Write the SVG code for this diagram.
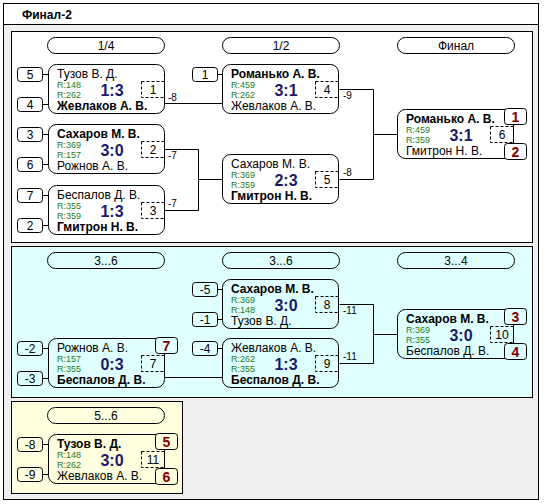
<svg xmlns="http://www.w3.org/2000/svg" width="548" height="504" viewBox="0 0 548 504">
<style>
text{font-family:"Liberation Sans",Arial,sans-serif}
.nm{font-size:12px;fill:#000}
.b{font-weight:bold}
.c{text-anchor:middle}
.r{font-size:9px;fill:#1e7b1e}
.sc{font-size:16px;font-weight:bold;fill:#1a1a6a;text-anchor:middle}
.bx{fill:none;stroke:#000;stroke-width:1}
.dash{stroke-dasharray:3,2}
.ln{stroke:#000;fill:none;stroke-width:1}
.lb{font-size:10px;fill:#000}
.pl{font-size:14px;font-weight:bold;fill:#800000;text-anchor:middle}
.pw{fill:#fff;stroke:#000}
.pc{fill:#e0ffff;stroke:#000}
.py{fill:#ffffe0;stroke:#000}
</style>
<rect x="3.5" y="3.5" width="535" height="496" fill="#f0f0f0" stroke="#000"/>
<rect x="3.5" y="3.5" width="535" height="21" fill="#fff" stroke="#000"/>
<text x="22" y="19" class="nm b">Финал-2</text>
<rect x="11.5" y="31.5" width="521" height="211" fill="#fff" stroke="#000"/>
<rect x="11.5" y="246.5" width="521" height="151" fill="#e0ffff" stroke="#000"/>
<rect x="11.5" y="401.5" width="171" height="92" fill="#ffffe0" stroke="#000"/>

<g id="headers">
<rect x="47.5" y="37.5" width="117" height="16" rx="8" class="bx"/><text x="106" y="50" class="nm c">1/4</text>
<rect x="222.5" y="37.5" width="117" height="16" rx="8" class="bx"/><text x="281" y="50" class="nm c">1/2</text>
<rect x="397.5" y="37.5" width="117" height="16" rx="8" class="bx"/><text x="456" y="50" class="nm c">Финал</text>
<rect x="47.5" y="252.5" width="117" height="16" rx="8" class="bx"/><text x="106" y="265" class="nm c">3...6</text>
<rect x="222.5" y="252.5" width="117" height="16" rx="8" class="bx"/><text x="281" y="265" class="nm c">3...6</text>
<rect x="397.5" y="252.5" width="117" height="16" rx="8" class="bx"/><text x="456" y="265" class="nm c">3...4</text>
<rect x="47.5" y="407.5" width="117" height="16" rx="8" class="bx"/><text x="106" y="420" class="nm c">5...6</text>
</g>

<g id="connectors">
<path class="ln" d="M42.5,74.5H48.5M42.5,104.5H48.5M42.5,134.5H48.5M42.5,164.5H48.5M42.5,195.5H48.5M42.5,225.5H48.5M217.5,74.5H222.5"/>
<path class="ln" d="M164.5,103.5H222.5"/>
<path class="ln" d="M164.5,149.5H198.5V210.5H164.5M198.5,179.5H222.5"/>
<path class="ln" d="M339.5,89.5H373.5V179.5H339.5M373.5,134.5H397.5"/>
<text x="168" y="101" class="lb">-8</text>
<text x="168" y="159" class="lb">-7</text>
<text x="168" y="207" class="lb">-7</text>
<text x="343" y="99" class="lb">-9</text>
<text x="343" y="176" class="lb">-8</text>
<path class="ln" d="M217.5,289.5H222.5M217.5,319.5H222.5M217.5,348.5H222.5M42.5,348.5H48.5M42.5,378.5H48.5M42.5,444.5H48.5M42.5,474.5H48.5"/>
<path class="ln" d="M164.5,377.5H222.5"/>
<path class="ln" d="M339.5,304.5H373.5V363.5H339.5M373.5,334.5H397.5"/>
<text x="343" y="314" class="lb">-11</text>
<text x="343" y="360" class="lb">-11</text>
</g>

<g id="seeds">
<rect x="17.5" y="67.5" width="25" height="14" rx="3" class="bx"/><text x="30" y="79" class="nm c">5</text>
<rect x="17.5" y="97.5" width="25" height="14" rx="3" class="bx"/><text x="30" y="109" class="nm c">4</text>
<rect x="17.5" y="127.5" width="25" height="14" rx="3" class="bx"/><text x="30" y="139" class="nm c">3</text>
<rect x="17.5" y="157.5" width="25" height="14" rx="3" class="bx"/><text x="30" y="169" class="nm c">6</text>
<rect x="17.5" y="188.5" width="25" height="14" rx="3" class="bx"/><text x="30" y="200" class="nm c">7</text>
<rect x="17.5" y="218.5" width="25" height="14" rx="3" class="bx"/><text x="30" y="230" class="nm c">2</text>
<rect x="192.5" y="67.5" width="25" height="14" rx="3" class="bx"/><text x="205" y="79" class="nm c">1</text>
<rect x="192.5" y="282.5" width="25" height="14" rx="3" class="bx"/><text x="205" y="294" class="nm c">-5</text>
<rect x="192.5" y="312.5" width="25" height="14" rx="3" class="bx"/><text x="205" y="324" class="nm c">-1</text>
<rect x="192.5" y="341.5" width="25" height="14" rx="3" class="bx"/><text x="205" y="353" class="nm c">-4</text>
<rect x="17.5" y="341.5" width="25" height="14" rx="3" class="bx"/><text x="30" y="353" class="nm c">-2</text>
<rect x="17.5" y="371.5" width="25" height="14" rx="3" class="bx"/><text x="30" y="383" class="nm c">-3</text>
<rect x="17.5" y="437.5" width="25" height="14" rx="3" class="bx"/><text x="30" y="449" class="nm c">-8</text>
<rect x="17.5" y="467.5" width="25" height="14" rx="3" class="bx"/><text x="30" y="479" class="nm c">-9</text>
</g>

<g id="m1">
<rect x="48.5" y="64.5" width="116" height="49" rx="8" class="bx"/>
<rect x="141.5" y="81.5" width="23" height="16" class="bx dash"/><text x="153" y="94" class="nm c">1</text>
<text x="57" y="77.5" class="nm">Тузов В. Д.</text>
<text x="57" y="88" class="r">R:148</text><text x="57" y="98" class="r">R:262</text>
<text x="112" y="95.5" class="sc">1:3</text>
<text x="57" y="110" class="nm b">Жевлаков А. В.</text>
</g>
<g id="m2">
<rect x="48.5" y="124.5" width="116" height="49" rx="8" class="bx"/>
<rect x="141.5" y="141.5" width="23" height="16" class="bx dash"/><text x="153" y="154" class="nm c">2</text>
<text x="57" y="137.5" class="nm b">Сахаров М. В.</text>
<text x="57" y="148" class="r">R:369</text><text x="57" y="158" class="r">R:157</text>
<text x="112" y="155.5" class="sc">3:0</text>
<text x="57" y="170" class="nm">Рожнов А. В.</text>
</g>
<g id="m3">
<rect x="48.5" y="185.5" width="116" height="49" rx="8" class="bx"/>
<rect x="141.5" y="202.5" width="23" height="16" class="bx dash"/><text x="153" y="215" class="nm c">3</text>
<text x="57" y="198.5" class="nm">Беспалов Д. В.</text>
<text x="57" y="209" class="r">R:355</text><text x="57" y="219" class="r">R:359</text>
<text x="112" y="216.5" class="sc">1:3</text>
<text x="57" y="231" class="nm b">Гмитрон Н. В.</text>
</g>
<g id="m4">
<rect x="222.5" y="64.5" width="116" height="49" rx="8" class="bx"/>
<rect x="315.5" y="81.5" width="23" height="16" class="bx dash"/><text x="327" y="94" class="nm c">4</text>
<text x="231" y="77.5" class="nm b">Романько А. В.</text>
<text x="231" y="88" class="r">R:459</text><text x="231" y="98" class="r">R:262</text>
<text x="286" y="95.5" class="sc">3:1</text>
<text x="231" y="110" class="nm">Жевлаков А. В.</text>
</g>
<g id="m5">
<rect x="222.5" y="154.5" width="116" height="49" rx="8" class="bx"/>
<rect x="315.5" y="171.5" width="23" height="16" class="bx dash"/><text x="327" y="184" class="nm c">5</text>
<text x="231" y="167.5" class="nm">Сахаров М. В.</text>
<text x="231" y="178" class="r">R:369</text><text x="231" y="188" class="r">R:359</text>
<text x="286" y="185.5" class="sc">2:3</text>
<text x="231" y="200" class="nm b">Гмитрон Н. В.</text>
</g>
<g id="m6">
<rect x="397.5" y="109.5" width="116" height="49" rx="8" class="bx"/>
<rect x="490.5" y="126.5" width="23" height="16" class="bx dash"/><text x="502" y="139" class="nm c">6</text>
<text x="406" y="122.5" class="nm b">Романько А. В.</text>
<text x="406" y="133" class="r">R:459</text><text x="406" y="143" class="r">R:359</text>
<text x="461" y="140.5" class="sc">3:1</text>
<text x="406" y="155" class="nm">Гмитрон Н. В.</text>
<rect x="504.5" y="108.5" width="22" height="16" rx="3" class="pw"/><text x="515.5" y="122" class="pl">1</text>
<rect x="504.5" y="143.5" width="22" height="16" rx="3" class="pw"/><text x="515.5" y="157" class="pl">2</text>
</g>

<g id="m8">
<rect x="222.5" y="279.5" width="116" height="49" rx="8" class="bx"/>
<rect x="315.5" y="296.5" width="23" height="16" class="bx dash"/><text x="327" y="309" class="nm c">8</text>
<text x="231" y="292.5" class="nm b">Сахаров М. В.</text>
<text x="231" y="303" class="r">R:369</text><text x="231" y="313" class="r">R:148</text>
<text x="286" y="310.5" class="sc">3:0</text>
<text x="231" y="325" class="nm">Тузов В. Д.</text>
</g>
<g id="m9">
<rect x="222.5" y="338.5" width="116" height="49" rx="8" class="bx"/>
<rect x="315.5" y="355.5" width="23" height="16" class="bx dash"/><text x="327" y="368" class="nm c">9</text>
<text x="231" y="351.5" class="nm">Жевлаков А. В.</text>
<text x="231" y="362" class="r">R:262</text><text x="231" y="372" class="r">R:355</text>
<text x="286" y="369.5" class="sc">1:3</text>
<text x="231" y="384" class="nm b">Беспалов Д. В.</text>
</g>
<g id="m7">
<rect x="48.5" y="338.5" width="116" height="49" rx="8" class="bx"/>
<rect x="141.5" y="355.5" width="23" height="16" class="bx dash"/><text x="153" y="368" class="nm c">7</text>
<text x="57" y="351.5" class="nm">Рожнов А. В.</text>
<text x="57" y="362" class="r">R:157</text><text x="57" y="372" class="r">R:355</text>
<text x="112" y="369.5" class="sc">0:3</text>
<text x="57" y="384" class="nm b">Беспалов Д. В.</text>
<rect x="155.5" y="337.5" width="22" height="16" rx="3" class="pc"/><text x="166.5" y="351" class="pl">7</text>
</g>
<g id="m10">
<rect x="397.5" y="309.5" width="116" height="49" rx="8" class="bx"/>
<rect x="490.5" y="326.5" width="23" height="16" class="bx dash"/><text x="502" y="339" class="nm c">10</text>
<text x="406" y="322.5" class="nm b">Сахаров М. В.</text>
<text x="406" y="333" class="r">R:369</text><text x="406" y="343" class="r">R:355</text>
<text x="461" y="340.5" class="sc">3:0</text>
<text x="406" y="355" class="nm">Беспалов Д. В.</text>
<rect x="504.5" y="308.5" width="22" height="16" rx="3" class="pc"/><text x="515.5" y="322" class="pl">3</text>
<rect x="504.5" y="343.5" width="22" height="16" rx="3" class="pc"/><text x="515.5" y="357" class="pl">4</text>
</g>
<g id="m11">
<rect x="48.5" y="434.5" width="116" height="49" rx="8" class="bx"/>
<rect x="141.5" y="451.5" width="23" height="16" class="bx dash"/><text x="153" y="464" class="nm c">11</text>
<text x="57" y="447.5" class="nm b">Тузов В. Д.</text>
<text x="57" y="458" class="r">R:148</text><text x="57" y="468" class="r">R:262</text>
<text x="112" y="465.5" class="sc">3:0</text>
<text x="57" y="480" class="nm">Жевлаков А. В.</text>
<rect x="155.5" y="433.5" width="22" height="16" rx="3" class="py"/><text x="166.5" y="447" class="pl">5</text>
<rect x="155.5" y="468.5" width="22" height="16" rx="3" class="py"/><text x="166.5" y="482" class="pl">6</text>
</g>
</svg>
